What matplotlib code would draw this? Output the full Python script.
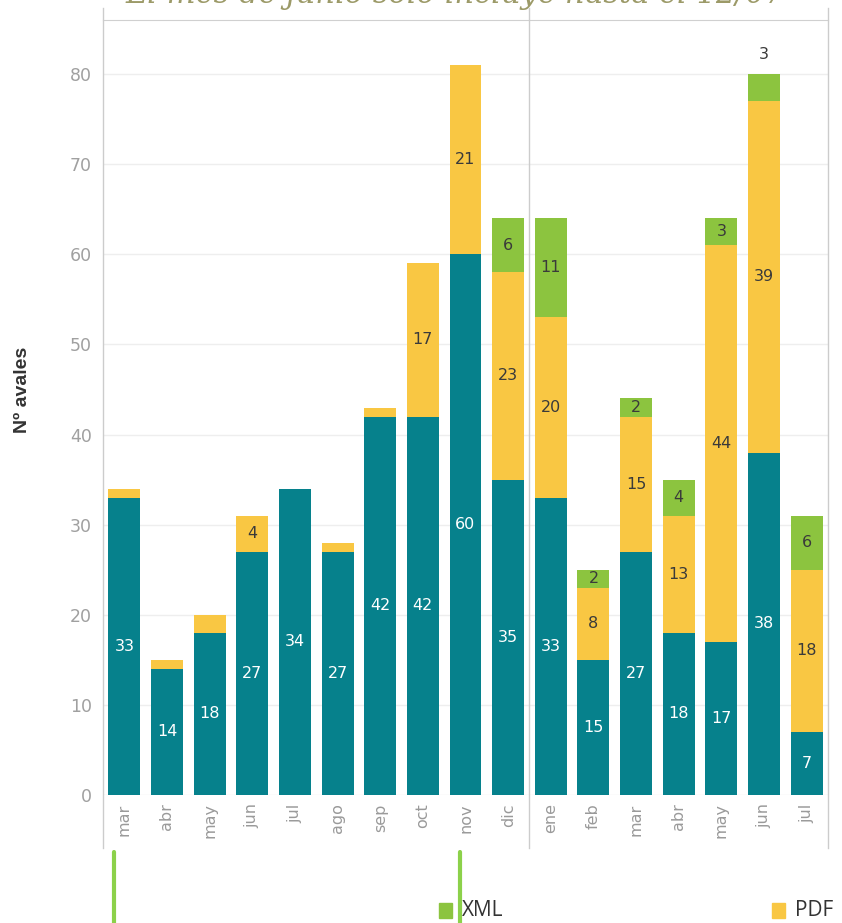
import matplotlib.pyplot as plt
from matplotlib.lines import Line2D
import numpy as np

months = ["mar", "abr", "may", "jun", "jul", "ago", "sep", "oct", "nov", "dic",
          "ene", "feb", "mar", "abr", "may", "jun", "jul"]
base = [33, 14, 18, 27, 34, 27, 42, 42, 60, 35, 33, 15, 27, 18, 17, 38, 7]
pdf = [1, 1, 2, 4, 0, 1, 1, 17, 21, 23, 20, 8, 15, 13, 44, 39, 18]
xml = [0, 0, 0, 0, 0, 0, 0, 0, 0, 6, 11, 2, 2, 4, 3, 3, 6]

teal = "#06818C"
yellow = "#F9C743"
green = "#8CC43F"

W, H = 842, 923
fig = plt.figure(figsize=(W / 100, H / 100), dpi=100)
ax = fig.add_axes([103 / W, 1 - 795 / H, 725 / W, 775 / H])

x = np.arange(len(months))
base_a = np.array(base)
pdf_a = np.array(pdf)
xml_a = np.array(xml)
bw = 0.75
ax.bar(x, base_a, width=bw, color=teal, zorder=3)
ax.bar(x, pdf_a, width=bw, bottom=base_a, color=yellow, zorder=3)
ax.bar(x, xml_a, width=bw, bottom=base_a + pdf_a, color=green, zorder=3)

# segment labels
for i in range(len(months)):
    ax.text(x[i], base[i] / 2, str(base[i]), ha="center", va="center",
            color="white", fontsize=11.5, zorder=4)
    if pdf[i] >= 3:
        ax.text(x[i], base[i] + pdf[i] / 2, str(pdf[i]), ha="center", va="center",
                color="#3a3a3a", fontsize=11.5, zorder=4)
    if xml[i] > 0:
        top = base[i] + pdf[i] + xml[i]
        if top > 78:
            # no room inside, put it above the bar
            ax.text(x[i], top + 2.2, str(xml[i]), ha="center", va="center",
                    color="#3a3a3a", fontsize=11.5, zorder=4)
        else:
            ax.text(x[i], base[i] + pdf[i] + xml[i] / 2, str(xml[i]), ha="center",
                    va="center", color="#3a3a3a", fontsize=11.5, zorder=4)

ax.set_xlim(-0.5, len(months) - 0.5)
ax.set_ylim(0, 86)
ax.set_yticks(range(0, 90, 10))
ax.set_xticks(x)
ax.set_xticklabels(months, rotation=90, color="#9a9a9a", fontsize=11.5)
ax.tick_params(axis="y", colors="#a0a0a0", labelsize=12.5, length=0, pad=8)
ax.tick_params(axis="x", length=0, pad=6)
ax.grid(axis="y", color="#eeeeee", linewidth=1, zorder=0)

for s in ["left", "right", "bottom"]:
    ax.spines[s].set_visible(False)
ax.spines["top"].set_color("#d0d0d0")

for xv in [-0.5, 9.5, len(months) - 0.5]:
    ax.axvline(xv, ymin=-53 / 775, ymax=1 + 12 / 775, color="#cccccc",
               linewidth=1, clip_on=False, zorder=5)

ax.set_ylabel("Nº avales", fontsize=14, fontweight="bold", color="#333333",
              family="Liberation Sans")
ax.yaxis.set_label_coords(-72 / 725, (795 - 390) / 775)

# title, cut off at the top edge as in the original
fig.text(455 / W, 1 - 3 / H, "El mes de junio sólo incluye hasta el 12/07",
         ha="center", va="baseline", fontsize=22, style="italic",
         family="DejaVu Serif", color="#9c9a68")

# bottom green markers and legend
for xp in [114, 460]:
    fig.add_artist(Line2D([xp / W, xp / W], [0, 1 - 852 / H], color="#8CD14A",
                          linewidth=3, solid_capstyle="round"))
fig.patches.append(plt.Rectangle((439 / W, 1 - 918 / H), 13 / W, 15 / H,
                                 transform=fig.transFigure, color=green))
fig.text(462 / W, 1 - 911 / H, "XML", fontsize=15, va="center",
         color="#333333", family="Open Sans")
fig.patches.append(plt.Rectangle((772 / W, 1 - 918 / H), 13 / W, 15 / H,
                                 transform=fig.transFigure, color=yellow))
fig.text(795 / W, 1 - 911 / H, "PDF", fontsize=15, va="center",
         color="#333333", family="Open Sans")

fig.savefig("out.png", dpi=100)
